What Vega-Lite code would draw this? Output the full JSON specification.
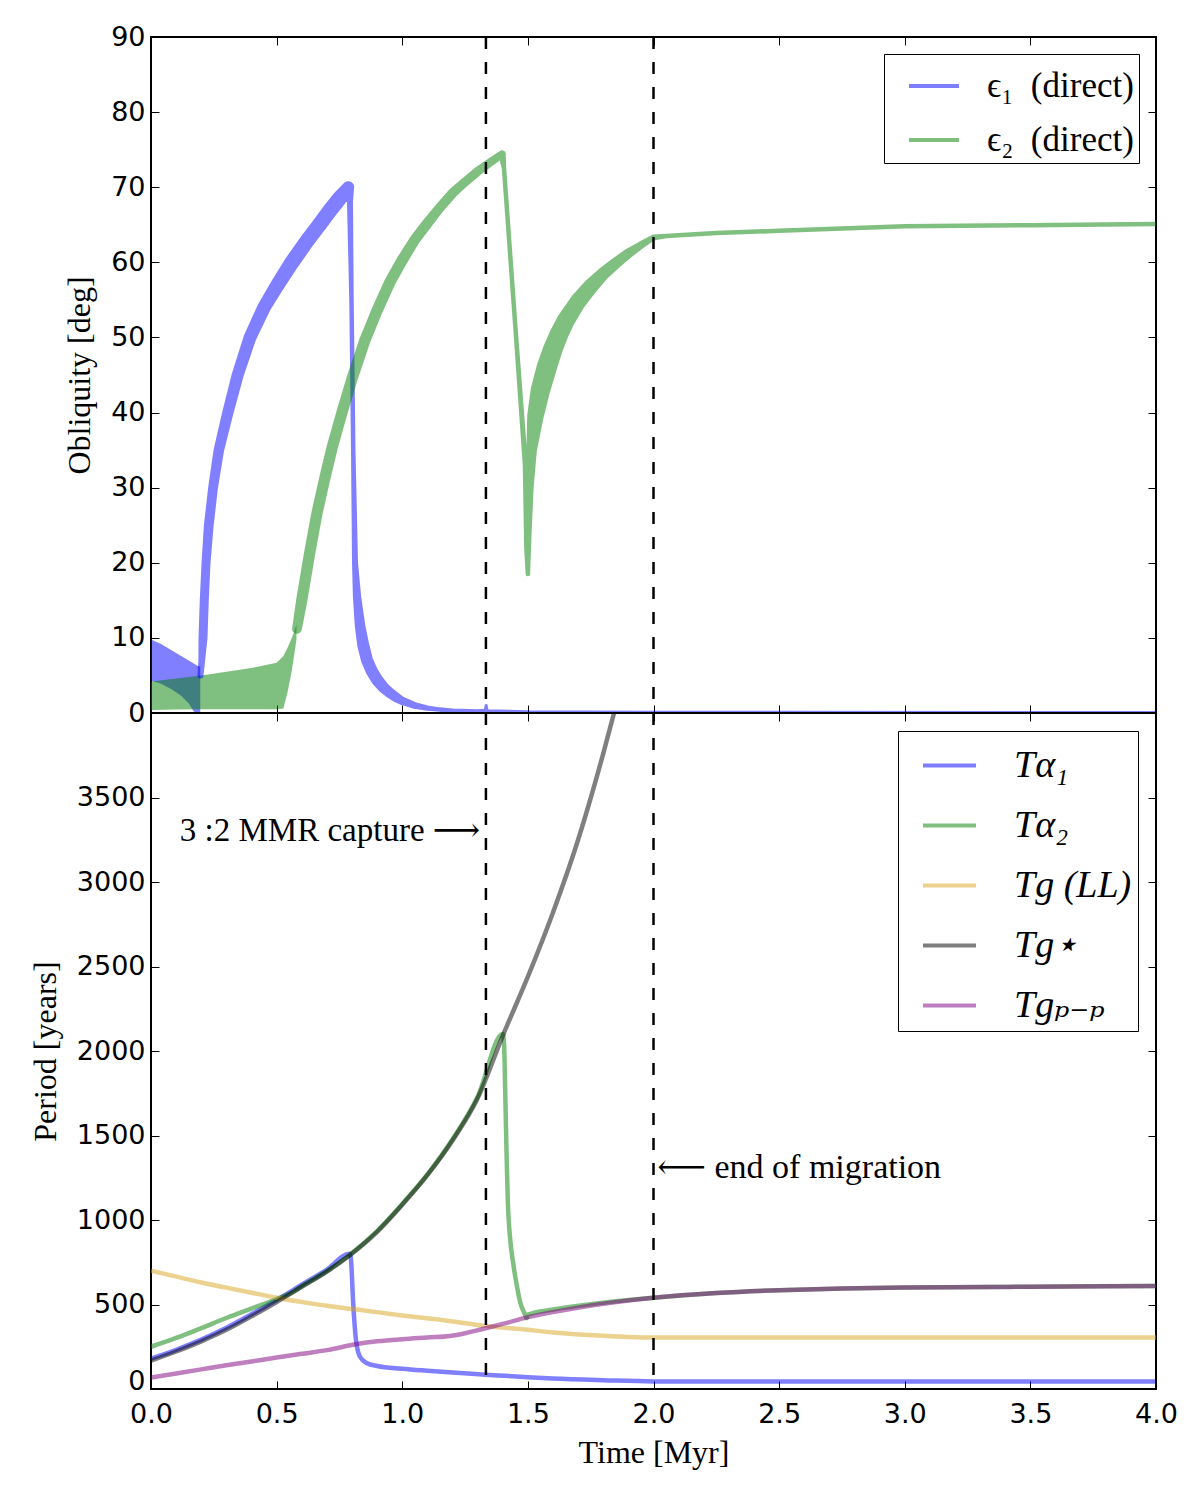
{
  "$schema": "https://vega.github.io/schema/vega-lite/v6.json",
  "padding": {"left": 28, "top": 22, "right": 10, "bottom": 10},
  "background": "white",
  "spacing": 0,
  "bounds": "flush",
  "datasets": {
    "band": [
      {"series": "e1", "t": 0.0, "lo": 4.3, "hi": 9.8},
      {"series": "e1", "t": 0.04, "lo": 3.9, "hi": 9.2},
      {"series": "e1", "t": 0.08, "lo": 3.2, "hi": 8.4},
      {"series": "e1", "t": 0.12, "lo": 2.3, "hi": 7.6},
      {"series": "e1", "t": 0.15, "lo": 1.3, "hi": 7.0},
      {"series": "e1", "t": 0.17, "lo": 0.2, "hi": 6.6},
      {"series": "e1", "t": 0.185, "lo": 0.0, "hi": 6.3},
      {"series": "e1", "t": 0.196, "lo": 0.0, "hi": 6.2},
      {"series": "e2", "t": 0.0, "lo": 0.4, "hi": 4.2},
      {"series": "e2", "t": 0.1, "lo": 0.45, "hi": 4.6},
      {"series": "e2", "t": 0.2, "lo": 0.5, "hi": 5.0},
      {"series": "e2", "t": 0.3, "lo": 0.5, "hi": 5.5},
      {"series": "e2", "t": 0.4, "lo": 0.5, "hi": 6.0},
      {"series": "e2", "t": 0.5, "lo": 0.5, "hi": 6.7},
      {"series": "e2", "t": 0.527, "lo": 0.6, "hi": 7.6},
      {"series": "e2", "t": 0.545, "lo": 3.0, "hi": 8.8},
      {"series": "e2", "t": 0.56, "lo": 5.6, "hi": 10.0},
      {"series": "e2", "t": 0.572, "lo": 8.2, "hi": 11.0},
      {"series": "e2", "t": 0.579, "lo": 9.8, "hi": 11.8}
    ],
    "obl": [
      {"series": "e1", "t": 0.197, "mid": 5.0, "amp": 0.8},
      {"series": "e1", "t": 0.202, "mid": 7, "amp": 0.9},
      {"series": "e1", "t": 0.207, "mid": 10, "amp": 1.2},
      {"series": "e1", "t": 0.212, "mid": 15, "amp": 1.2},
      {"series": "e1", "t": 0.219, "mid": 20, "amp": 1.2},
      {"series": "e1", "t": 0.23, "mid": 25, "amp": 1.3},
      {"series": "e1", "t": 0.247, "mid": 30, "amp": 1.3},
      {"series": "e1", "t": 0.27, "mid": 35, "amp": 1.4},
      {"series": "e1", "t": 0.306, "mid": 40, "amp": 1.5},
      {"series": "e1", "t": 0.345, "mid": 45, "amp": 1.6},
      {"series": "e1", "t": 0.394, "mid": 50, "amp": 1.7},
      {"series": "e1", "t": 0.45, "mid": 54, "amp": 1.8},
      {"series": "e1", "t": 0.5, "mid": 56.8, "amp": 1.9},
      {"series": "e1", "t": 0.561, "mid": 60, "amp": 2.0},
      {"series": "e1", "t": 0.62, "mid": 62.8, "amp": 2.0},
      {"series": "e1", "t": 0.67, "mid": 65, "amp": 2.0},
      {"series": "e1", "t": 0.712, "mid": 66.9, "amp": 2.0},
      {"series": "e1", "t": 0.75, "mid": 68.5, "amp": 2.0},
      {"series": "e1", "t": 0.785, "mid": 70.0, "amp": 1.6},
      {"series": "e1", "t": 0.792, "mid": 68, "amp": 0.8},
      {"series": "e1", "t": 0.798, "mid": 55, "amp": 0.6},
      {"series": "e1", "t": 0.805, "mid": 35, "amp": 0.6},
      {"series": "e1", "t": 0.812, "mid": 20, "amp": 0.8},
      {"series": "e1", "t": 0.82, "mid": 15.5, "amp": 1.1},
      {"series": "e1", "t": 0.832, "mid": 11.6, "amp": 1.4},
      {"series": "e1", "t": 0.845, "mid": 9.0, "amp": 1.6},
      {"series": "e1", "t": 0.86, "mid": 7.0, "amp": 1.6},
      {"series": "e1", "t": 0.88, "mid": 5.5, "amp": 1.6},
      {"series": "e1", "t": 0.9, "mid": 4.4, "amp": 1.6},
      {"series": "e1", "t": 0.925, "mid": 3.4, "amp": 1.5},
      {"series": "e1", "t": 0.95, "mid": 2.7, "amp": 1.4},
      {"series": "e1", "t": 0.975, "mid": 2.1, "amp": 1.3},
      {"series": "e1", "t": 1.0, "mid": 1.6, "amp": 1.1},
      {"series": "e1", "t": 1.05, "mid": 1.0, "amp": 0.9},
      {"series": "e1", "t": 1.1, "mid": 0.65, "amp": 0.7},
      {"series": "e1", "t": 1.15, "mid": 0.45, "amp": 0.6},
      {"series": "e1", "t": 1.2, "mid": 0.35, "amp": 0.5},
      {"series": "e1", "t": 1.3, "mid": 0.3, "amp": 0.4},
      {"series": "e1", "t": 1.33, "mid": 0.35, "amp": 0.4},
      {"series": "e1", "t": 1.334, "mid": 1.0, "amp": 0.4},
      {"series": "e1", "t": 1.338, "mid": 0.3, "amp": 0.4},
      {"series": "e1", "t": 1.5, "mid": 0.2, "amp": 0.35},
      {"series": "e1", "t": 2.0, "mid": 0.15, "amp": 0.3},
      {"series": "e1", "t": 4.0, "mid": 0.1, "amp": 0.3},
      {"series": "e2", "t": 0.581, "mid": 11.2, "amp": 1.3},
      {"series": "e2", "t": 0.6, "mid": 15, "amp": 1.5},
      {"series": "e2", "t": 0.63, "mid": 21, "amp": 1.5},
      {"series": "e2", "t": 0.66, "mid": 26.5, "amp": 1.5},
      {"series": "e2", "t": 0.69, "mid": 31, "amp": 1.5},
      {"series": "e2", "t": 0.72, "mid": 35.2, "amp": 1.5},
      {"series": "e2", "t": 0.76, "mid": 40, "amp": 1.5},
      {"series": "e2", "t": 0.8, "mid": 44.5, "amp": 1.5},
      {"series": "e2", "t": 0.85, "mid": 49.5, "amp": 1.5},
      {"series": "e2", "t": 0.9, "mid": 53.6, "amp": 1.5},
      {"series": "e2", "t": 0.95, "mid": 57.3, "amp": 1.5},
      {"series": "e2", "t": 1.0, "mid": 60.3, "amp": 1.5},
      {"series": "e2", "t": 1.05, "mid": 63, "amp": 1.4},
      {"series": "e2", "t": 1.1, "mid": 65.2, "amp": 1.4},
      {"series": "e2", "t": 1.15, "mid": 67.3, "amp": 1.3},
      {"series": "e2", "t": 1.2, "mid": 69.2, "amp": 1.3},
      {"series": "e2", "t": 1.25, "mid": 70.7, "amp": 1.2},
      {"series": "e2", "t": 1.3, "mid": 72.1, "amp": 1.2},
      {"series": "e2", "t": 1.35, "mid": 73.3, "amp": 1.1},
      {"series": "e2", "t": 1.397, "mid": 74.4, "amp": 1.0},
      {"series": "e2", "t": 1.405, "mid": 72.5, "amp": 0.6},
      {"series": "e2", "t": 1.45, "mid": 51.5, "amp": 0.6},
      {"series": "e2", "t": 1.49, "mid": 33, "amp": 0.7},
      {"series": "e2", "t": 1.497, "mid": 22, "amp": 0.8},
      {"series": "e2", "t": 1.5, "mid": 18.5, "amp": 0.6},
      {"series": "e2", "t": 1.503, "mid": 24, "amp": 0.8},
      {"series": "e2", "t": 1.508, "mid": 30, "amp": 1.0},
      {"series": "e2", "t": 1.515, "mid": 35, "amp": 1.4},
      {"series": "e2", "t": 1.53, "mid": 39.5, "amp": 2.2},
      {"series": "e2", "t": 1.55, "mid": 43, "amp": 2.6},
      {"series": "e2", "t": 1.575, "mid": 46, "amp": 2.7},
      {"series": "e2", "t": 1.6, "mid": 48.5, "amp": 2.6},
      {"series": "e2", "t": 1.625, "mid": 50.5, "amp": 2.5},
      {"series": "e2", "t": 1.65, "mid": 52.2, "amp": 2.4},
      {"series": "e2", "t": 1.7, "mid": 54.8, "amp": 2.2},
      {"series": "e2", "t": 1.75, "mid": 56.8, "amp": 2.0},
      {"series": "e2", "t": 1.8, "mid": 58.5, "amp": 1.7},
      {"series": "e2", "t": 1.85, "mid": 59.9, "amp": 1.5},
      {"series": "e2", "t": 1.9, "mid": 61.2, "amp": 1.3},
      {"series": "e2", "t": 1.95, "mid": 62.3, "amp": 1.0},
      {"series": "e2", "t": 2.0, "mid": 63.3, "amp": 0.8},
      {"series": "e2", "t": 2.05, "mid": 63.5, "amp": 0.6},
      {"series": "e2", "t": 2.25, "mid": 63.9, "amp": 0.6},
      {"series": "e2", "t": 2.5, "mid": 64.2, "amp": 0.6},
      {"series": "e2", "t": 2.75, "mid": 64.5, "amp": 0.6},
      {"series": "e2", "t": 3.0, "mid": 64.8, "amp": 0.6},
      {"series": "e2", "t": 3.5, "mid": 64.95, "amp": 0.6},
      {"series": "e2", "t": 4.0, "mid": 65.1, "amp": 0.6}
    ],
    "per": [
      {"series": "Ta1", "t": 0, "v": 180}, {"series": "Ta1", "t": 0.1, "v": 232}, {"series": "Ta1", "t": 0.2, "v": 292},
      {"series": "Ta1", "t": 0.3, "v": 362}, {"series": "Ta1", "t": 0.4, "v": 442}, {"series": "Ta1", "t": 0.5, "v": 527},
      {"series": "Ta1", "t": 0.6, "v": 617}, {"series": "Ta1", "t": 0.7, "v": 707}, {"series": "Ta1", "t": 0.79, "v": 800},
      {"series": "Ta1", "t": 0.795, "v": 780}, {"series": "Ta1", "t": 0.805, "v": 500}, {"series": "Ta1", "t": 0.815, "v": 300},
      {"series": "Ta1", "t": 0.825, "v": 215}, {"series": "Ta1", "t": 0.84, "v": 175}, {"series": "Ta1", "t": 0.86, "v": 152},
      {"series": "Ta1", "t": 0.9, "v": 136}, {"series": "Ta1", "t": 1.0, "v": 120}, {"series": "Ta1", "t": 1.1, "v": 108},
      {"series": "Ta1", "t": 1.2, "v": 97}, {"series": "Ta1", "t": 1.33, "v": 85}, {"series": "Ta1", "t": 1.5, "v": 70},
      {"series": "Ta1", "t": 1.6, "v": 62}, {"series": "Ta1", "t": 1.8, "v": 52}, {"series": "Ta1", "t": 2.0, "v": 45},
      {"series": "Ta1", "t": 4.0, "v": 45},
      {"series": "Ta2", "t": 0, "v": 250}, {"series": "Ta2", "t": 0.1, "v": 302}, {"series": "Ta2", "t": 0.2, "v": 360},
      {"series": "Ta2", "t": 0.3, "v": 420}, {"series": "Ta2", "t": 0.4, "v": 476}, {"series": "Ta2", "t": 0.5, "v": 532},
      {"series": "Ta2", "t": 0.55, "v": 562}, {"series": "Ta2", "t": 0.6, "v": 608}, {"series": "Ta2", "t": 0.7, "v": 698},
      {"series": "Ta2", "t": 0.79, "v": 793}, {"series": "Ta2", "t": 0.9, "v": 935}, {"series": "Ta2", "t": 1.0, "v": 1095},
      {"series": "Ta2", "t": 1.1, "v": 1270}, {"series": "Ta2", "t": 1.2, "v": 1478}, {"series": "Ta2", "t": 1.3, "v": 1730},
      {"series": "Ta2", "t": 1.4, "v": 2100}, {"series": "Ta2", "t": 1.405, "v": 2050}, {"series": "Ta2", "t": 1.41, "v": 1750},
      {"series": "Ta2", "t": 1.415, "v": 1400}, {"series": "Ta2", "t": 1.42, "v": 1120}, {"series": "Ta2", "t": 1.43, "v": 880},
      {"series": "Ta2", "t": 1.44, "v": 760}, {"series": "Ta2", "t": 1.455, "v": 620}, {"series": "Ta2", "t": 1.47, "v": 510},
      {"series": "Ta2", "t": 1.488, "v": 443}, {"series": "Ta2", "t": 1.495, "v": 420}, {"series": "Ta2", "t": 1.5, "v": 440},
      {"series": "Ta2", "t": 1.6, "v": 470}, {"series": "Ta2", "t": 1.8, "v": 510}, {"series": "Ta2", "t": 2.0, "v": 540},
      {"series": "Ta2", "t": 2.25, "v": 568}, {"series": "Ta2", "t": 2.5, "v": 585}, {"series": "Ta2", "t": 2.75, "v": 595},
      {"series": "Ta2", "t": 3.0, "v": 600}, {"series": "Ta2", "t": 3.5, "v": 605}, {"series": "Ta2", "t": 4.0, "v": 610},
      {"series": "TgLL", "t": 0, "v": 700}, {"series": "TgLL", "t": 0.1, "v": 665}, {"series": "TgLL", "t": 0.2, "v": 630},
      {"series": "TgLL", "t": 0.3, "v": 600}, {"series": "TgLL", "t": 0.4, "v": 570}, {"series": "TgLL", "t": 0.5, "v": 540},
      {"series": "TgLL", "t": 0.6, "v": 515}, {"series": "TgLL", "t": 0.7, "v": 492}, {"series": "TgLL", "t": 0.82, "v": 470},
      {"series": "TgLL", "t": 1.0, "v": 435}, {"series": "TgLL", "t": 1.2, "v": 400}, {"series": "TgLL", "t": 1.32, "v": 375},
      {"series": "TgLL", "t": 1.5, "v": 350}, {"series": "TgLL", "t": 1.6, "v": 335}, {"series": "TgLL", "t": 1.8, "v": 315},
      {"series": "TgLL", "t": 1.9, "v": 308}, {"series": "TgLL", "t": 2.0, "v": 305}, {"series": "TgLL", "t": 4.0, "v": 305},
      {"series": "Tgstar", "t": 0, "v": 168}, {"series": "Tgstar", "t": 0.1, "v": 222}, {"series": "Tgstar", "t": 0.2, "v": 282},
      {"series": "Tgstar", "t": 0.3, "v": 350}, {"series": "Tgstar", "t": 0.4, "v": 430}, {"series": "Tgstar", "t": 0.5, "v": 515},
      {"series": "Tgstar", "t": 0.6, "v": 605}, {"series": "Tgstar", "t": 0.7, "v": 695}, {"series": "Tgstar", "t": 0.79, "v": 790},
      {"series": "Tgstar", "t": 0.9, "v": 930}, {"series": "Tgstar", "t": 1.0, "v": 1090}, {"series": "Tgstar", "t": 1.1, "v": 1265},
      {"series": "Tgstar", "t": 1.2, "v": 1470}, {"series": "Tgstar", "t": 1.3, "v": 1720}, {"series": "Tgstar", "t": 1.4, "v": 2090},
      {"series": "Tgstar", "t": 1.5, "v": 2440}, {"series": "Tgstar", "t": 1.6, "v": 2820}, {"series": "Tgstar", "t": 1.7, "v": 3250},
      {"series": "Tgstar", "t": 1.8, "v": 3760}, {"series": "Tgstar", "t": 1.85, "v": 4040},
      {"series": "Tgpp", "t": 0, "v": 68}, {"series": "Tgpp", "t": 0.1, "v": 92}, {"series": "Tgpp", "t": 0.2, "v": 116},
      {"series": "Tgpp", "t": 0.3, "v": 140}, {"series": "Tgpp", "t": 0.4, "v": 163}, {"series": "Tgpp", "t": 0.5, "v": 186},
      {"series": "Tgpp", "t": 0.6, "v": 208}, {"series": "Tgpp", "t": 0.7, "v": 230}, {"series": "Tgpp", "t": 0.82, "v": 266},
      {"series": "Tgpp", "t": 0.9, "v": 282}, {"series": "Tgpp", "t": 1.0, "v": 295}, {"series": "Tgpp", "t": 1.1, "v": 305},
      {"series": "Tgpp", "t": 1.19, "v": 314}, {"series": "Tgpp", "t": 1.25, "v": 330}, {"series": "Tgpp", "t": 1.32, "v": 355},
      {"series": "Tgpp", "t": 1.4, "v": 385}, {"series": "Tgpp", "t": 1.5, "v": 425}, {"series": "Tgpp", "t": 1.6, "v": 455},
      {"series": "Tgpp", "t": 1.8, "v": 505}, {"series": "Tgpp", "t": 2.0, "v": 540}, {"series": "Tgpp", "t": 2.25, "v": 568},
      {"series": "Tgpp", "t": 2.5, "v": 585}, {"series": "Tgpp", "t": 2.75, "v": 595}, {"series": "Tgpp", "t": 3.0, "v": 600},
      {"series": "Tgpp", "t": 3.33, "v": 603}, {"series": "Tgpp", "t": 3.5, "v": 605}, {"series": "Tgpp", "t": 4.0, "v": 610}
    ],
    "events": [{"t": 1.333}, {"t": 2.0}],
    "notes": [
      {"t": 1.31, "v": 3300, "label": "3 :2 MMR capture ⟶", "side": "left"},
      {"t": 2.015, "v": 1310, "label": "⟵ end of migration", "side": "right"}
    ]
  },
  "vconcat": [
    {
      "width": 1005,
      "height": 676,
      "layer": [
        {
          "data": {"name": "band"},
          "mark": {"type": "area", "opacity": 0.5, "clip": true},
          "encoding": {
            "x": {"field": "t", "type": "quantitative", "scale": {"domain": [0, 4], "nice": false},
                  "axis": {"orient": "bottom", "labels": false, "title": null, "values": [0, 0.5, 1, 1.5, 2, 2.5, 3, 3.5, 4]}},
            "y": {"field": "lo", "type": "quantitative", "scale": {"domain": [0, 90], "nice": false},
                  "axis": {"orient": "left", "title": "Obliquity [deg]", "values": [0, 10, 20, 30, 40, 50, 60, 70, 80, 90]}},
            "y2": {"field": "hi"},
            "color": {"field": "series", "type": "nominal",
                      "scale": {"domain": ["e1", "e2"], "range": ["#0000ff", "#008000"]},
                      "legend": {"title": null, "orient": "top-right", "offset": 17, "strokeColor": "black", "fillColor": "white",
                                 "padding": 5, "symbolType": "stroke", "symbolSize": 2500, "symbolStrokeWidth": 4, "symbolOpacity": 0.5,
                                 "symbolOffset": 18, "labelOffset": 26, "rowPadding": 9,
                                 "labelExpr": "datum.label == 'e1' ? 'ϵ₁\u2002(direct)' : 'ϵ₂\u2002(direct)'",
                                 "labelFont": "Liberation Serif, DejaVu Serif", "labelFontSize": 35, "labelColor": "black"}}
          }
        },
        {
          "data": {"name": "obl"},
          "mark": {"type": "trail", "opacity": 0.5, "clip": true},
          "encoding": {
            "x": {"field": "t", "type": "quantitative", "axis": null},
            "y": {"field": "mid", "type": "quantitative", "axis": null},
            "color": {"field": "series", "type": "nominal",
                      "scale": {"domain": ["e1", "e2"], "range": ["#0000ff", "#008000"]},
                      "legend": {"title": null, "orient": "top-right", "offset": 17, "strokeColor": "black", "fillColor": "white",
                                 "padding": 5, "symbolType": "stroke", "symbolSize": 2500, "symbolStrokeWidth": 4, "symbolOpacity": 0.5,
                                 "symbolOffset": 18, "labelOffset": 26, "rowPadding": 9,
                                 "labelExpr": "datum.label == 'e1' ? 'ϵ₁\u2002(direct)' : 'ϵ₂\u2002(direct)'",
                                 "labelFont": "Liberation Serif, DejaVu Serif", "labelFontSize": 35, "labelColor": "black"}},
            "size": {"field": "amp", "type": "quantitative", "scale": {"domain": [0, 10], "range": [0, 75]}, "legend": null}
          }
        },
        {
          "data": {"name": "events"},
          "mark": {"type": "rule", "color": "black", "strokeWidth": 2.5, "strokeDash": [12, 13]},
          "encoding": {
            "x": {"field": "t", "type": "quantitative", "axis": {"orient": "top", "labels": false, "title": null, "values": [0, 0.5, 1, 1.5, 2, 2.5, 3, 3.5, 4]}}
          }
        },
        {
          "mark": {"type": "point", "opacity": 0},
          "encoding": {
            "y": {"datum": 0, "type": "quantitative", "axis": {"orient": "right", "labels": false, "title": null, "values": [0, 10, 20, 30, 40, 50, 60, 70, 80, 90]}}
          }
        }
      ],
      "resolve": {"axis": {"x": "independent", "y": "independent"}}
    },
    {
      "width": 1005,
      "height": 676,
      "layer": [
        {
          "data": {"name": "per"},
          "mark": {"type": "line", "strokeWidth": 4.5, "clip": true, "interpolate": "monotone"},
          "encoding": {
            "x": {"field": "t", "type": "quantitative", "scale": {"domain": [0, 4], "nice": false},
                  "axis": {"orient": "bottom", "title": "Time [Myr]", "format": ".1f", "values": [0, 0.5, 1, 1.5, 2, 2.5, 3, 3.5, 4]}},
            "y": {"field": "v", "type": "quantitative", "scale": {"domain": [0, 4000], "nice": false},
                  "axis": {"orient": "left", "title": "Period [years]", "format": "d", "values": [0, 500, 1000, 1500, 2000, 2500, 3000, 3500],
                           "labelBaseline": {"condition": {"test": "datum.value == 0", "value": "alphabetic"}, "value": "middle"}}},
            "color": {"field": "series", "type": "nominal", "sort": null,
                      "scale": {"domain": ["Ta1", "Ta2", "TgLL", "Tgstar", "Tgpp"], "range": ["#0000ff", "#008000", "#daa520", "#000000", "#800080"]},
                      "legend": {"title": null, "orient": "top-right", "offset": 18, "strokeColor": "black", "fillColor": "white",
                                 "padding": 6, "symbolType": "stroke", "symbolSize": 2809, "symbolStrokeWidth": 4, "symbolOpacity": 0.55,
                                 "symbolOffset": 17, "labelOffset": 36, "rowPadding": 12,
                                 "labelExpr": "{'Ta1': 'Tα₁', 'Ta2': 'Tα₂', 'TgLL': 'Tg (LL)', 'Tgstar': 'Tg⋆', 'Tgpp': 'Tgₚ₋ₚ'}[datum.label]",
                                 "labelFont": "Liberation Serif, DejaVu Serif", "labelFontStyle": "italic", "labelFontSize": 38, "labelColor": "black"}},
            "opacity": {"field": "series", "type": "nominal", "scale": {"domain": ["Ta1", "Ta2", "TgLL", "Tgstar", "Tgpp"], "range": [0.5, 0.5, 0.5, 0.6, 0.6]}, "legend": null}
          }
        },
        {
          "data": {"name": "events"},
          "mark": {"type": "rule", "color": "black", "strokeWidth": 2.5, "strokeDash": [12, 13]},
          "encoding": {
            "x": {"field": "t", "type": "quantitative", "axis": {"orient": "top", "labels": false, "title": null, "values": [0, 0.5, 1, 1.5, 2, 2.5, 3, 3.5, 4]}}
          }
        },
        {
          "mark": {"type": "point", "opacity": 0},
          "encoding": {
            "y": {"datum": 0, "type": "quantitative", "axis": {"orient": "right", "labels": false, "title": null, "values": [0, 500, 1000, 1500, 2000, 2500, 3000, 3500]}}
          }
        },
        {
          "data": {"name": "notes"},
          "transform": [{"filter": "datum.side == 'left'"}],
          "mark": {"type": "text", "align": "right", "baseline": "middle", "font": "Liberation Serif, DejaVu Serif", "fontSize": 33, "color": "black"},
          "encoding": {
            "x": {"field": "t", "type": "quantitative", "axis": null},
            "y": {"field": "v", "type": "quantitative", "axis": null},
            "text": {"field": "label"}
          }
        },
        {
          "data": {"name": "notes"},
          "transform": [{"filter": "datum.side == 'right'"}],
          "mark": {"type": "text", "align": "left", "baseline": "middle", "font": "Liberation Serif, DejaVu Serif", "fontSize": 34, "color": "black"},
          "encoding": {
            "x": {"field": "t", "type": "quantitative", "axis": null},
            "y": {"field": "v", "type": "quantitative", "axis": null},
            "text": {"field": "label"}
          }
        }
      ],
      "resolve": {"axis": {"x": "independent", "y": "independent"}}
    }
  ],
  "resolve": {"scale": {"color": "independent", "opacity": "independent", "size": "independent"}, "legend": {"color": "independent"}},
  "config": {
    "view": {"stroke": "black", "strokeWidth": 2},
    "axis": {
      "domain": false, "grid": false,
      "tickColor": "black", "tickSize": -8, "tickWidth": 1,
      "labelFont": "DejaVu Sans", "labelFontSize": 27, "labelColor": "black", "labelPadding": 14, "labelFlush": false,
      "titleFont": "Liberation Serif, DejaVu Serif", "titleFontSize": 32, "titleFontWeight": "normal", "titleColor": "black"
    },
    "axisY": {"titlePadding": 14},
    "axisX": {"titlePadding": 10, "labelPadding": 20}
  }
}
